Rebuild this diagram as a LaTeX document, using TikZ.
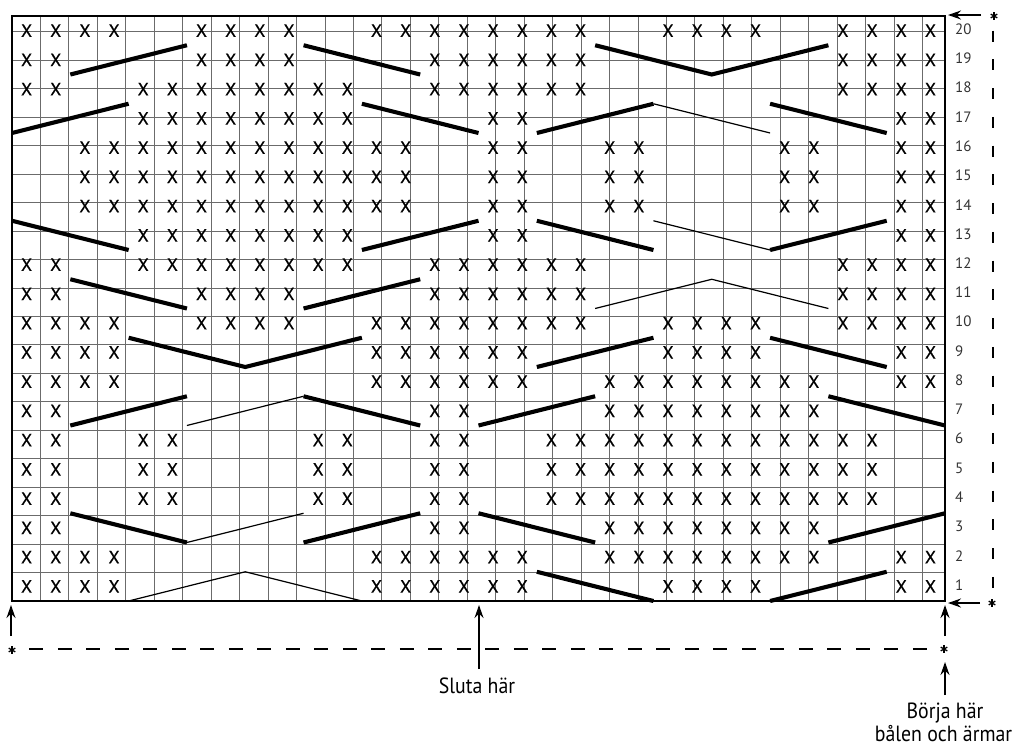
\documentclass[tikz,border=0pt]{standalone}
\usepackage{fontspec}
\setmainfont{PT Sans}
\newfontfamily\condfont[FakeStretch=0.9]{PT Sans}
\newfontfamily\xfont[FakeBold=0.6]{PT Sans}
\usetikzlibrary{arrows.meta}
\begin{document}
\begin{tikzpicture}[x=1pt,y=-1pt,
  gridline/.style={draw=black!58,line width=0.9pt},
  border/.style={draw=black,line width=2.4pt},
  thickst/.style={draw=black,line width=4.1pt},
  thinst/.style={draw=black,line width=1.2pt},
  xmark/.style={font=\xfont\fontsize{18}{18}\selectfont,inner sep=0pt},
  rownum/.style={font=\fontsize{15}{15}\selectfont,text=black!80,anchor=west,inner sep=0pt},
  arr/.style={draw=black,line width=1.6pt,-{Stealth[length=13pt,width=9pt]}},
  starnode/.style={circle,inner sep=0pt,minimum size=10pt,
    path picture={\foreach \ang in {90,30,-30} {\draw[line width=1.3pt]
      ([shift={(\ang:3.8pt)}]path picture bounding box.center) --
      ([shift={(\ang+180:3.8pt)}]path picture bounding box.center);}}},
  lbl/.style={font=\condfont\fontsize{22}{22}\selectfont,inner sep=0pt,anchor=base},
  vdash/.style={draw=black,line width=2.3pt,dash pattern=on 11pt off 17.76pt},
  hdash/.style={draw=black,line width=2.6pt,dash pattern=on 14pt off 14.5pt}]
\useasboundingbox (0,0) rectangle (1019,747);
% ---------------- chart ----------------
\begin{scope}[shift={(12,601)},x=29.156pt,y=29.25pt]
  \draw[gridline] (0,0) grid (32,20);
  \foreach \r/\a/\b in {
    20/1/4,20/7/10,20/13/20,20/23/26,20/29/32,
    19/1/2,19/7/10,19/15/20,19/29/32,
    18/1/2,18/5/12,18/15/20,18/29/32,
    17/5/12,17/17/18,17/31/32,
    16/3/14,16/17/18,16/21/22,16/27/28,16/31/32,
    15/3/14,15/17/18,15/21/22,15/27/28,15/31/32,
    14/3/14,14/17/18,14/21/22,14/27/28,14/31/32,
    13/5/12,13/17/18,13/31/32,
    12/1/2,12/5/12,12/15/20,12/29/32,
    11/1/2,11/7/10,11/15/20,11/29/32,
    10/1/4,10/7/10,10/13/20,10/23/26,10/29/32,
    9/1/4,9/13/18,9/23/26,9/31/32,
    8/1/4,8/13/18,8/21/28,8/31/32,
    7/1/2,7/15/16,7/21/28,
    6/1/2,6/5/6,6/11/12,6/15/16,6/19/30,
    5/1/2,5/5/6,5/11/12,5/15/16,5/19/30,
    4/1/2,4/5/6,4/11/12,4/15/16,4/19/30,
    3/1/2,3/15/16,3/21/28,
    2/1/4,2/13/18,2/21/28,2/31/32,
    1/1/4,1/13/18,1/23/26,1/31/32}
    {\foreach \c in {\a,...,\b}
      {\node[xmark] (x\r-\c) at (\c-0.5,\r-0.5) {X};}}
  % row 19
  \draw[thickst] (2,18) -- (6,19);
  \draw[thickst] (10,19) -- (14,18);
  \draw[thickst] (20,19) -- (24,18) -- (28,19);
  % row 17
  \draw[thickst] (0,16) -- (4,17);
  \draw[thickst] (12,17) -- (16,16);
  \draw[thickst] (18,16) -- (22,17);
  \draw[thinst] (22,17) -- (26,16);
  \draw[thickst] (26,17) -- (30,16);
  % row 13
  \draw[thickst] (0,13) -- (4,12);
  \draw[thickst] (12,12) -- (16,13);
  \draw[thickst] (18,13) -- (22,12);
  \draw[thinst] (22,13) -- (26,12);
  \draw[thickst] (26,12) -- (30,13);
  % row 11
  \draw[thickst] (2,11) -- (6,10);
  \draw[thickst] (10,10) -- (14,11);
  \draw[thinst] (20,10) -- (24,11) -- (28,10);
  % row 9
  \draw[thickst] (4,9) -- (8,8) -- (12,9);
  \draw[thickst] (18,8) -- (22,9);
  \draw[thickst] (26,9) -- (30,8);
  % row 7
  \draw[thickst] (2,6) -- (6,7);
  \draw[thinst] (6,6) -- (10,7);
  \draw[thickst] (10,7) -- (14,6);
  \draw[thickst] (16,6) -- (20,7);
  \draw[thickst] (28,7) -- (32,6);
  % row 3
  \draw[thickst] (2,3) -- (6,2);
  \draw[thinst] (6,2) -- (10,3);
  \draw[thickst] (10,2) -- (14,3);
  \draw[thickst] (16,3) -- (20,2);
  \draw[thickst] (28,2) -- (32,3);
  % row 1
  \draw[thinst] (4,0) -- (8,1) -- (12,0);
  \draw[thickst] (18,1) -- (22,0);
  \draw[thickst] (26,0) -- (30,1);
  \draw[border] (0,0) rectangle (32,20);
  \foreach \r in {1,...,20}
    {\node[rownum] (rn\r) at (32.34,\r-0.45) {\r};}
\end{scope}
% ---------------- markers ----------------
\node[starnode] (topstar) at (994,16) {};
\node[starnode] (botstar) at (992,603) {};
\node[starnode] (leftstar) at (12,650) {};
\node[starnode] (rightstar) at (944,649) {};
\coordinate (vtop) at (993,30.5);
\coordinate (vbot) at (993,588);
\draw[vdash] (vtop) -- (vbot);
\coordinate (hleft) at (29.3,649);
\coordinate (hright) at (926.8,649);
\draw[hdash] (hleft) -- (hright);
\coordinate (tra) at (981,15);
\coordinate (trb) at (948,15);
\draw[arr] (tra) -- (trb);
\coordinate (bra) at (980,603);
\coordinate (brb) at (948,603);
\draw[arr] (bra) -- (brb);
\coordinate (la) at (11,636);
\coordinate (lb) at (11,605);
\draw[arr] (la) -- (lb);
\coordinate (ra) at (945,636);
\coordinate (rb) at (945,605);
\draw[arr] (ra) -- (rb);
\coordinate (ma) at (479,669);
\coordinate (mb) at (479,605);
\draw[arr] (ma) -- (mb);
\coordinate (ba) at (945,695);
\coordinate (bb) at (945,662);
\draw[arr] (ba) -- (bb);
\node[lbl] (sluta) at (477,693) {Sluta här};
\node[lbl] (borja) at (945,718) {Börja här};
\node[lbl] (balen) at (943.5,741) {bålen och ärmar};
\end{tikzpicture}
\end{document}
